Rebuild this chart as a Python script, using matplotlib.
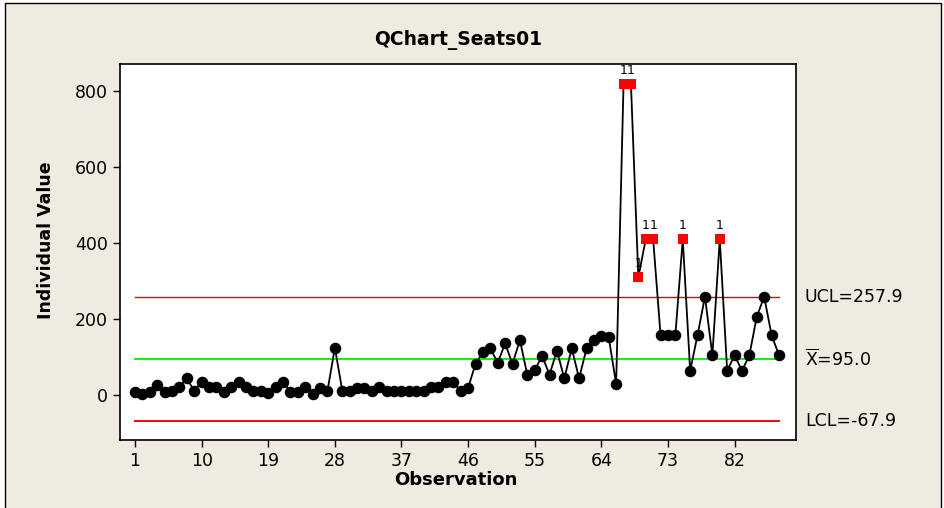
import matplotlib.pyplot as plt
import numpy as np
from matplotlib.patches import Rectangle

# Individual values per observation
values = np.array([
    9, 4, 9, 26, 9, 12, 22, 44, 11, 35,
    22, 22, 9, 22, 35, 22, 11, 11, 5, 22,
    35, 9, 9, 22, 4, 20, 11, 125, 12, 12,
    20, 20, 10, 22, 10, 10, 10, 10, 10, 10,
    22, 22, 34, 34, 11, 19, 82, 113, 123, 85,
    136, 82, 145, 53, 66, 103, 54, 117, 44, 123,
    44, 123, 145, 156, 152, 29, 818, 818, 310, 410,
    410, 158, 158, 158, 410, 64, 158, 259, 105, 410,
    64, 105, 64, 105, 206, 259, 158, 105,
])
obs = np.arange(1, len(values) + 1)

ucl = 257.9
center = 95.0
lcl = -67.9

# points flagged by test 1 (beyond limits)
flagged = [67, 68, 69, 70, 71, 75, 80]

xticks = [1, 10, 19, 28, 37, 46, 55, 64, 73, 82]
yticks = [0, 200, 400, 600, 800]

bg = '#efebe1'
fig = plt.figure(figsize=(9.45, 5.08), dpi=100)
fig.patch.set_facecolor('white')
fig.patches.append(Rectangle((5 / 945, -0.05), 936 / 945, 1.05 - 3 / 508,
                             transform=fig.transFigure, facecolor=bg,
                             edgecolor='black', lw=1.0, zorder=-10))

ax = fig.add_axes([120 / 945, 68 / 508, 676 / 945, 376 / 508])
ax.set_facecolor('white')

ax.plot(obs[[0, -1]], [ucl, ucl], color='#e00000', lw=1.0, zorder=1)
ax.plot(obs[[0, -1]], [lcl, lcl], color='#ff0000', lw=1.4, zorder=1)
ax.plot(obs[[0, -1]], [center, center], color='#00ee00', lw=1.3, zorder=1)

ax.plot(obs, values, color='black', lw=1.3, zorder=3)
normal = np.array([i not in flagged for i in obs])
ax.plot(obs[normal], values[normal], 'o', color='black', ms=7.3, zorder=4)
fl = np.array(flagged)
ax.plot(fl, values[fl - 1], 's', color='#ff0000', ms=6.8, mew=0, zorder=4)
for i in flagged:
    ax.annotate('1', (i, values[i - 1]), xytext=(0, 5), textcoords='offset points',
                ha='center', va='bottom', fontsize=9, zorder=2)

ax.set_xlim(-1.03, 90.3)
ax.set_ylim(-118, 871)
ax.set_xticks(xticks)
ax.set_yticks(yticks)
ax.tick_params(direction='out', length=5, labelsize=12.5, width=1)
for s in ax.spines.values():
    s.set_linewidth(1.2)

fig.text(458 / 945, 1 - 40 / 508, 'QChart_Seats01', ha='center', va='center',
         fontsize=13.5, fontweight='bold')
fig.text(456 / 945, 1 - 480 / 508, 'Observation', ha='center', va='center',
         fontsize=13, fontweight='bold')
fig.text(46 / 945, 1 - 240 / 508, 'Individual Value', ha='center', va='center',
         fontsize=12.5, fontweight='bold', rotation=90)

ax.text(1.013, ucl, 'UCL=257.9', transform=ax.get_yaxis_transform(),
        va='center', fontsize=12.5)
ax.text(1.013, center, r'$\overline{\mathrm{X}}$=95.0', transform=ax.get_yaxis_transform(),
        va='center', fontsize=12.5)
ax.text(1.013, lcl, 'LCL=-67.9', transform=ax.get_yaxis_transform(),
        va='center', fontsize=12.5)

fig.savefig('out.png', dpi=100, facecolor=fig.get_facecolor())
